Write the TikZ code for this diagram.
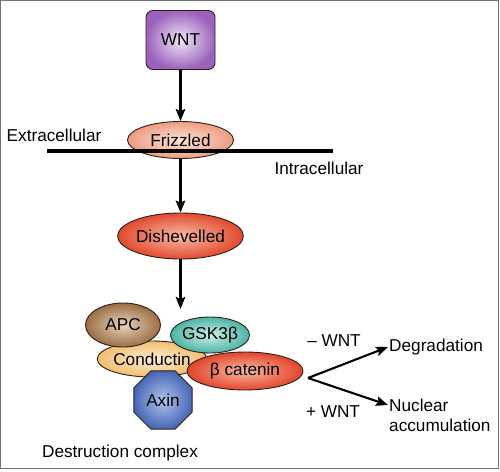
\documentclass[tikz,border=0pt]{standalone}
\usepackage{fontspec}
\setmainfont{Liberation Sans}
\usetikzlibrary{arrows.meta,positioning,shapes.geometric}
\definecolor{wntout}{HTML}{9A62BC}
\definecolor{wntin}{HTML}{F2E8F7}
\definecolor{fzdout}{HTML}{EE9C82}
\definecolor{fzdin}{HTML}{FCE3D8}
\definecolor{dshout}{HTML}{E14A2E}
\definecolor{dshin}{HTML}{F9BBA6}
\definecolor{apcout}{HTML}{9A6E45}
\definecolor{apcin}{HTML}{E9D3BC}
\definecolor{gskout}{HTML}{4DB4A3}
\definecolor{gskin}{HTML}{CDEEE8}
\definecolor{condout}{HTML}{F0BE6C}
\definecolor{condin}{HTML}{FDEED5}
\definecolor{bcatout}{HTML}{E2452B}
\definecolor{bcatin}{HTML}{FAB9A2}
\definecolor{axinout}{HTML}{4768B6}
\definecolor{axinin}{HTML}{AFC3EA}
\definecolor{edge}{HTML}{2E1E16}
\tikzset{
  >={Stealth[length=12pt,width=9.5pt,inset=2pt]},
  lbl/.style={font=\fontsize{17.2}{19.5}\selectfont,inner sep=0pt},
  prot/.style={ellipse,draw=edge,line width=0.9pt,inner sep=0pt,lbl},
  wntbox/.style={rectangle,rounded corners=7pt,draw=edge,line width=0.9pt,
                 minimum width=69pt,minimum height=59pt,lbl,
                 inner color=wntin,outer color=wntout},
  octo/.style={regular polygon,regular polygon sides=8,draw=edge,line width=0.9pt,
               inner sep=0pt,minimum size=63pt,lbl},
  sig/.style={->,line width=2.1pt},
  memb/.style={line width=3.8pt},
  frame/.style={draw=black!55,line width=1.3pt},
}
\begin{document}
\begin{tikzpicture}[x=1pt,y=-1pt]
  \useasboundingbox (0,0) rectangle (500,471);
  \draw[frame] (0.8,0.8) rectangle (498.4,468.2);
  % receptor
  \node[wntbox] (wnt) at (180.5,40) {WNT};
  \node[prot,minimum width=106pt,minimum height=37pt,inner color=fzdin,outer color=fzdout]
     (fzd) at (180.5,140) {Frizzled};
  \coordinate (memL) at (47,151);
  \coordinate (memR) at (333,151);
  \draw[memb] (memL) -- (memR);
  \node[lbl] (ext) at (54,135) {Extracellular};
  \node[lbl] (intra) at (319,168) {Intracellular};
  \node[prot,minimum width=115pt,minimum height=46pt,inner color=dshin,outer color=dshout]
     (dsh) at (180.5,236) {Dishevelled};
  \coordinate (cplx) at (180.5,309);
  \draw[sig] (wnt.south) -- (fzd.north);
  \draw[sig] (fzd.south) -- (dsh.north);
  \draw[sig] (dsh.south) -- (cplx);
  % destruction complex
  \node[prot,minimum width=96pt,minimum height=36pt,inner color=condin,outer color=condout]
     (cond) at (152,359) {Conductin};
  \node[prot,minimum width=75pt,minimum height=44pt,inner color=apcin,outer color=apcout]
     (apc) at (123,325) {APC};
  \node[prot,minimum width=77pt,minimum height=36pt,inner color=gskin,outer color=gskout]
     (gsk) at (210,335) {GSK3β};
  \node[prot,minimum width=116pt,minimum height=38pt,inner color=bcatin,outer color=bcatout]
     (bcat) at (245,371) {β catenin};
  \node[octo,inner color=axinin,outer color=axinout] (axin) at (163,400) {Axin};
  \node[lbl] (dcx) at (120,453) {Destruction complex};
  % fate of beta catenin
  \coordinate (fork) at (308,378);
  \node[lbl,anchor=west] (deg) at (389,347) {Degradation};
  \node[lbl,align=left,anchor=north west] (nuc) at (389,399) {Nuclear\\accumulation};
  \node[lbl] (minus) at (334,341) {– WNT};
  \node[lbl] (plus) at (333,412) {+ WNT};
  \draw[sig] (fork) -- ([xshift=-1pt]deg.west);
  \draw[sig] (fork) -- ([xshift=-1pt,yshift=-6pt]nuc.north west);
\end{tikzpicture}
\end{document}
